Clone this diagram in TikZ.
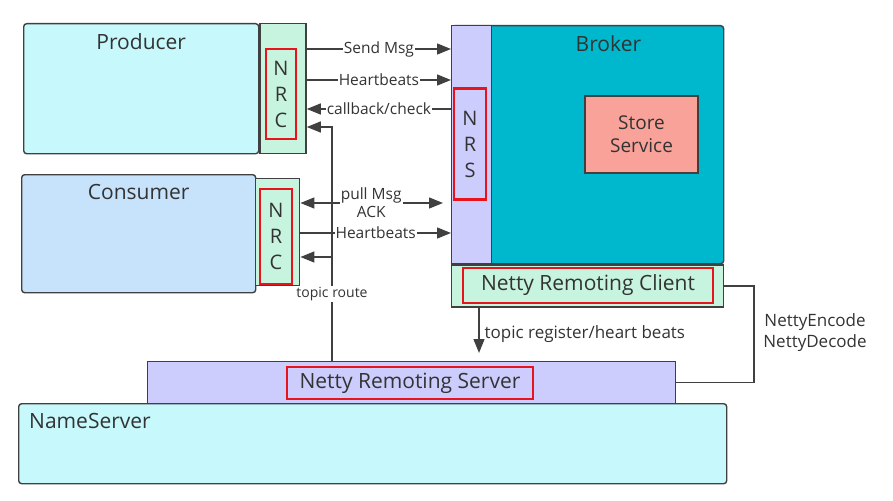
\documentclass[tikz,border=0pt]{standalone}
\usepackage{fontspec}
\setmainfont{Open Sans}
\usepackage{tikz}
\usetikzlibrary{arrows.meta, positioning, calc}
\definecolor{lineaGris}{HTML}{404040}
\definecolor{textoGris}{HTML}{333333}
\definecolor{cianProd}{HTML}{C6F8FC}
\definecolor{azulCons}{HTML}{C7E2FB}
\definecolor{verdeNRC}{HTML}{C7F4DF}
\definecolor{lilaNRS}{HTML}{CCCDFC}
\definecolor{tealBroker}{HTML}{00B8CE}
\definecolor{salmonStore}{HTML}{F8A29A}
\definecolor{rojoMarca}{HTML}{E8141C}
\tikzset{
  mq/box/.style={rectangle, draw=lineaGris, line width=1.4pt, inner sep=0pt,
    anchor=north west},
  mq/title/.style={font=\fontsize{21}{25}\selectfont, text=textoGris,
    inner sep=0pt},
  mq/red/.style={rectangle, draw=rojoMarca, line width=2.2pt, inner sep=0pt,
    align=center, text=textoGris, font=\fontsize{21}{25}\selectfont},
  mq/letters/.style={mq/red, font=\fontsize{20}{26}\selectfont},
  mq/store/.style={rectangle, draw=lineaGris, line width=1.4pt, fill=salmonStore,
    align=center, text=textoGris, font=\fontsize{19}{23}\selectfont},
  mq/line/.style={draw=lineaGris, line width=1.4pt},
  mq/arr/.style={mq/line, -{Triangle[length=14pt,width=11pt]}},
  mq/arr2/.style={mq/line, {Triangle[length=14pt,width=11pt]}-{Triangle[length=14pt,width=11pt]}},
  mq/lbl/.style={font=\fontsize{15.5}{18}\selectfont, text=textoGris,
    fill=white, inner sep=1pt},
  mq/lblbig/.style={font=\fontsize{17}{21}\selectfont, text=textoGris,
    inner sep=1pt, align=center}
}
\begin{document}
\begin{tikzpicture}[x=1pt, y=-1pt]
  \useasboundingbox (0,0) rectangle (893,500);
  % producer
  \node[mq/box, fill=cianProd, rounded corners=3pt, minimum width=235pt,
        minimum height=130pt,
        label={[mq/title, anchor=north, yshift=-10pt]north:Producer}] (prod) at (23,23) {};
  \node[mq/box, fill=verdeNRC, minimum width=46pt, minimum height=130pt] (pnrc) at (prod.north east) {};
  \node[mq/letters, minimum width=30pt, minimum height=90pt] (pnrcl) at (281,94) {N\\R\\C};
  % consumer
  \node[mq/box, fill=azulCons, rounded corners=3pt, minimum width=234pt,
        minimum height=118pt,
        label={[mq/title, anchor=north, yshift=-10pt]north:Consumer}] (cons) at (21,174) {};
  \node[mq/box, fill=verdeNRC, minimum width=44pt, minimum height=107pt] (cnrc) at (255,178) {};
  \node[mq/letters, minimum width=32pt, minimum height=95pt] (cnrcl) at (276,236.5) {N\\R\\C};
  % broker
  \node[mq/box, fill=tealBroker, rounded corners=3pt, minimum width=272pt,
        minimum height=238pt] (broker) at (451,25) {};
  \node[mq/box, fill=lilaNRS, minimum width=40pt, minimum height=238pt] (nrs) at (451,25) {};
  \node[mq/title, anchor=north, yshift=-10pt] (brokert) at ($(nrs.north east)!0.5!(broker.north east)$) {Broker};
  \node[mq/letters, minimum width=32pt, minimum height=111pt] (nrsl) at (470,144) {N\\R\\S};
  \node[mq/store, minimum width=113pt, minimum height=77pt] (store) at (641.5,134.5) {Store\\Service};
  \node[mq/box, fill=verdeNRC, minimum width=272pt, minimum height=42pt] (nrc) at (broker.south west) {};
  \node[mq/red, minimum width=250pt, minimum height=35pt] (nrcl) at (588,285.5) {Netty Remoting Client};
  % name server
  \node[mq/box, fill=cianProd, rounded corners=3pt, minimum width=708pt,
        minimum height=80pt,
        label={[mq/title, anchor=north west, xshift=11pt, yshift=-10pt]north west:NameServer}] (ns) at (18,403) {};
  \node[mq/box, fill=lilaNRS, minimum width=528pt, minimum height=42pt] (nrsrv) at (147,361) {};
  \node[mq/red, minimum width=246pt, minimum height=32pt] (nrsrvl) at (410,383) {Netty Remoting Server};

  % producer <-> broker
  \draw[mq/arr] (pnrc.east |- 0,49) -- node[mq/lbl]{Send Msg} (nrs.west |- 0,49);
  \draw[mq/arr] (pnrc.east |- 0,80) -- node[mq/lbl]{Heartbeats} (nrs.west |- 0,80);
  \draw[mq/arr] (nrs.west |- 0,109) -- node[mq/lbl]{callback/check} (pnrc.east |- 0,109);
  % consumer <-> broker
  \draw[mq/arr2, shorten >=8pt] (cnrc.east |- 0,203) -- node[mq/lbl, align=center, pos=0.47]{pull Msg\\ACK} (nrs.west |- 0,203);
  \draw[mq/arr] (cnrc.east |- 0,233) -- node[mq/lbl]{Heartbeats} (nrs.west |- 0,233);
  % topic route
  \draw[mq/arr] (nrsrv.north -| 332,0) |- (pnrc.east |- 0,127);
  \draw[mq/arr] (nrsrv.north -| 332,0) |- (cnrc.east |- 0,257);
  \node[mq/lbl, font=\fontsize{14}{17}\selectfont] (route) at (332,294) {topic route};
  % broker -> name server
  \draw[mq/arr, shorten >=8pt] (nrc.south -| 479,0) -- node[mq/lblbig, right, xshift=4pt]{topic register/heart beats} (nrsrv.north -| 479,0);
  \draw[mq/line] (nrc.east) -| (754,332) |- (nrsrv.east);
  \node[mq/lblbig] (codec) at (815,332.5) {NettyEncode\\NettyDecode};
\end{tikzpicture}
\end{document}
